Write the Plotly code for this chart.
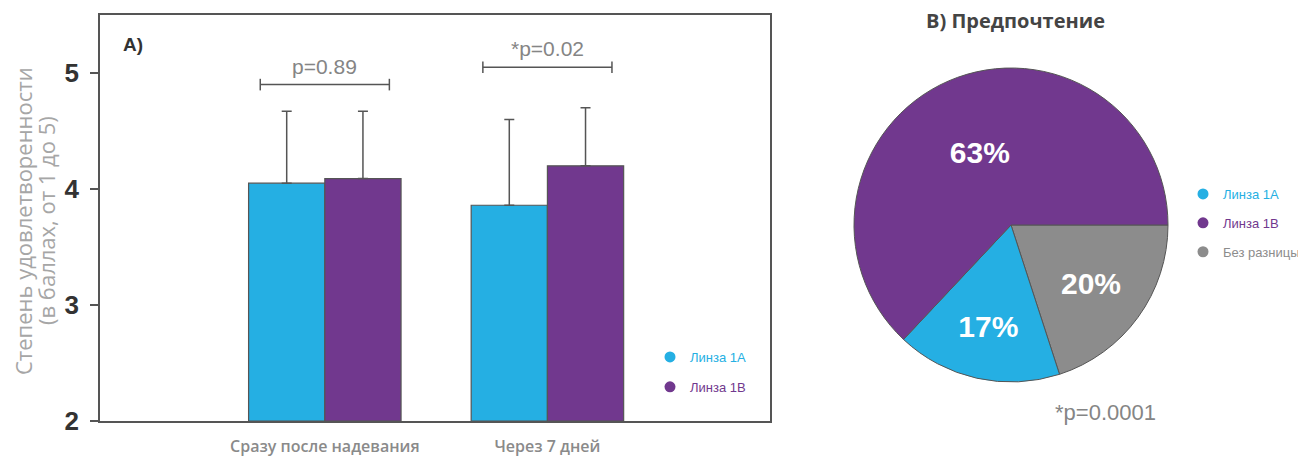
import plotly.graph_objects as go

# ---------------- data ----------------
categories = ["Сразу после надевания", "Через 7 дней"]
lens_a = [4.05, 3.86]
lens_b = [4.09, 4.20]
lens_a_err = [0.62, 0.74]
lens_b_err = [0.58, 0.50]
series_names = ["Линза 1A", "Линза 1B"]

p_values = ["p=0.89", "*p=0.02"]
bracket_y = [4.90, 5.05]
p_text_y = [5.06, 5.21]

pie_labels = ["Без разницы", "Линза 1A", "Линза 1B"]
pie_values = [20, 17, 63]
pie_legend_order = ["Линза 1A", "Линза 1B", "Без разницы"]

y_ticks = [2, 3, 4, 5]
y_title_lines = ["Степень удовлетворенности", "(в баллах, от 1 до 5)"]

# ---------------- styles ----------------
BLUE = "#25AFE3"
PURPLE = "#71388E"
GRAY = "#8C8C8C"
LINE = "#555555"
color_map = {"Линза 1A": BLUE, "Линза 1B": PURPLE, "Без разницы": GRAY}

OFF = 8  # page body margin
W, H = 1306 - OFF, 459 - OFF


def px(x):
    return (x - OFF) / W


def py(y):
    return 1 - (y - OFF) / H


fig = go.Figure()

for name, vals, errs, col in [
    (series_names[0], lens_a, lens_a_err, BLUE),
    (series_names[1], lens_b, lens_b_err, PURPLE),
]:
    fig.add_trace(go.Bar(
        x=categories, y=[v - 2 for v in vals], base=2, name=name,
        marker=dict(color=col, line=dict(color=LINE, width=1.2)),
        error_y=dict(type="data", array=errs, arrayminus=[0] * len(errs),
                     symmetric=False, color=LINE, thickness=1.5, width=5),
        showlegend=False,
    ))

# legend entries (circles) for the bar chart
for i, name in enumerate(series_names):
    fig.add_trace(go.Scatter(
        x=[None], y=[None], mode="markers",
        name=f"<span style='color:{color_map[name]}'>{name}</span>",
        marker=dict(color=color_map[name], size=11, symbol="circle"),
        legend="legend", legendgroup=f"g{i}", showlegend=True,
    ))

# pie
fig.add_trace(go.Pie(
    labels=pie_labels, values=pie_values, sort=False, direction="clockwise",
    rotation=90, marker=dict(colors=[color_map[l] for l in pie_labels],
                             line=dict(color=LINE, width=1)),
    texttemplate="%{value}%", textposition="inside", insidetextorientation="horizontal",
    textfont=dict(color="white", size=30, family="Liberation Sans", weight="bold"),
    domain=dict(x=[px(854), px(1168)], y=[py(382), py(68)]),
    showlegend=False, hoverinfo="label+percent",
))

for i, name in enumerate(pie_legend_order):
    fig.add_trace(go.Scatter(
        x=[None], y=[None], mode="markers",
        name=f"<span style='color:{color_map[name]}'>{name}</span>",
        marker=dict(color=color_map[name], size=11, symbol="circle"),
        legend="legend2", legendgroup=f"p{i}", showlegend=True,
    ))

shapes = []
for i, by in enumerate(bracket_y):
    xa, xb = i - 0.29, i + 0.29
    shapes.append(dict(type="line", xref="x", yref="y", x0=xa, x1=xb, y0=by, y1=by,
                       line=dict(color=LINE, width=1.5)))
    for xx in (xa, xb):
        shapes.append(dict(type="line", xref="x", yref="y", x0=xx, x1=xx,
                           y0=by - 0.05, y1=by + 0.05, line=dict(color=LINE, width=1.5)))

annotations = []
for i, (pt, pyv) in enumerate(zip(p_values, p_text_y)):
    annotations.append(dict(x=i, y=pyv, xref="x", yref="y", text=pt, showarrow=False,
                            font=dict(family="Liberation Sans", size=21, color="#858585")))
annotations.append(dict(x=px(133), y=py(44), xref="paper", yref="paper", text="A)",
                        showarrow=False, xanchor="center", yanchor="middle",
                        font=dict(family="Liberation Sans", size=19, color="#333333", weight="bold")))
annotations.append(dict(x=px(1015), y=py(20), xref="paper", yref="paper",
                        text="B) Предпочтение", showarrow=False,
                        xanchor="center", yanchor="middle",
                        font=dict(family="Open Sans", size=20, color="#444444", weight="bold")))
annotations.append(dict(x=px(1105), y=py(412), xref="paper", yref="paper",
                        text="*p=0.0001", showarrow=False,
                        xanchor="center", yanchor="middle",
                        font=dict(family="Liberation Sans", size=22, color="#858585")))
for line_text, cx in zip(y_title_lines, [23, 46]):
    annotations.append(dict(x=px(cx), y=py(221), xref="paper", yref="paper",
                            text=line_text, textangle=-90, showarrow=False,
                            xanchor="center", yanchor="middle",
                            font=dict(family="Open Sans", size=22, color="#A6A6A6")))

fig.update_layout(
    width=W, height=H,
    margin=dict(l=0, r=0, t=0, b=0),
    paper_bgcolor="white", plot_bgcolor="white",
    barmode="group", bargap=0.315, bargroupgap=0,
    xaxis=dict(domain=[px(100), px(770)], range=[-1.01, 2.0], type="category",
               showline=True, mirror=True, linecolor=LINE, linewidth=1.5,
               showgrid=False, ticks="", automargin=False, ticklabelstandoff=10,
               tickfont=dict(family="Open Sans", size=16, color="#8A8A8A", weight=600)),
    yaxis=dict(domain=[py(421), py(15)], range=[2, 5.5],
               tickvals=y_ticks, showline=True, mirror=True, linecolor=LINE, linewidth=1.5,
               showgrid=False, zeroline=False, ticks="outside", ticklen=8,
               tickcolor=LINE, tickwidth=1.5, automargin=False, ticklabelstandoff=6,
               tickfont=dict(family="Liberation Sans", size=26, color="#333333", weight="bold")),
    legend=dict(x=px(650), y=py(342), xanchor="left", yanchor="top",
                bgcolor="rgba(0,0,0,0)", traceorder="grouped", tracegroupgap=10,
                itemwidth=30,
                font=dict(family="Liberation Sans", size=13, color=BLUE)),
    legend2=dict(x=px(1183), y=py(179), xanchor="left", yanchor="top",
                 bgcolor="rgba(0,0,0,0)", traceorder="grouped", tracegroupgap=9,
                 itemwidth=30,
                 font=dict(family="Liberation Sans", size=13, color=GRAY)),
    shapes=shapes, annotations=annotations,
)

fig.write_html("out.html")
